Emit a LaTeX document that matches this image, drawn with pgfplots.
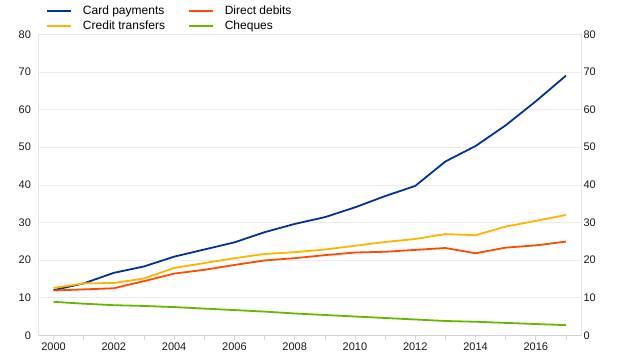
\documentclass[border=0pt]{standalone}
\usepackage{pgfplots}
\pgfplotsset{compat=1.18}
\usepackage{fontspec}
\setmainfont{Liberation Sans}
\definecolor{cblue}{RGB}{0,50,153}
\definecolor{cyellow}{RGB}{255,180,0}
\definecolor{corange}{RGB}{255,75,0}
\definecolor{cgreen}{RGB}{101,184,0}
\pgfplotstableread{
year card credit direct cheques
2000 12.0 12.6 11.9 8.9
2001 13.8 13.8 12.2 8.4
2002 16.6 13.9 12.5 8.0
2003 18.3 15.1 14.4 7.8
2004 20.9 17.9 16.4 7.5
2005 22.8 19.2 17.4 7.1
2006 24.7 20.5 18.7 6.7
2007 27.4 21.6 19.9 6.3
2008 29.6 22.1 20.5 5.8
2009 31.4 22.8 21.3 5.4
2010 34.0 23.8 22.0 5.0
2011 37.0 24.8 22.2 4.6
2012 39.7 25.6 22.7 4.2
2013 46.2 26.9 23.2 3.8
2014 50.3 26.6 21.8 3.6
2015 55.8 28.9 23.3 3.3
2016 62.2 30.4 23.9 3.0
2017 69.0 32.0 24.9 2.7
}\data
\pgfplotsset{
  common/.style={
    scale only axis, width=542.5pt, height=301pt,
    xmin=1999.5, xmax=2017.5, ymin=0, ymax=80,
    ytick={0,10,...,80},
    tick label style={font=\fontsize{11}{13}\selectfont, text=black!90},
    /pgf/number format/assume math mode=true,
    /pgf/number format/1000 sep={},
  },
  mylegend/.style={legend image code/.code={\draw[##1, line width=1.8pt] (0pt,0pt) -- (24pt,0pt);}},
}
\begin{document}
\begin{tikzpicture}
\begin{axis}[common,
  xtick={2000,2001,...,2017},
  xticklabels={2000,,2002,,2004,,2006,,2008,,2010,,2012,,2014,,2016,},
  xtick pos=bottom,
  tick align=outside,
  x tick style={draw=gray!30, line width=0.6pt},
  y tick style={draw=none},
  major tick length=5pt,
  ytick pos=left,
  ymajorgrids,
  grid style={gray!15, line width=0.6pt},
  axis line style={gray!20, line width=0.6pt},
  yticklabel style={xshift=1pt},
  xticklabel style={yshift=1pt},
  legend style={at={(0,1)}, anchor=south west, xshift=7.5pt, yshift=1pt,
    draw=none, fill=none, font=\fontsize{12}{14}\selectfont,
    inner sep=0pt, row sep=1pt,
    /tikz/column 1/.style={column sep=9pt},
    /tikz/column 2/.style={column sep=21pt},
    /tikz/column 3/.style={column sep=9pt}},
  legend columns=2,
  legend cell align=left,
  mylegend,
]
\addplot[cblue, line width=1.8pt] table[x=year, y=card] {\data};
\addlegendentry{Card payments}
\addplot[corange, line width=1.8pt] table[x=year, y=direct] {\data};
\addlegendentry{Direct debits}
\addplot[cyellow, line width=1.8pt] table[x=year, y=credit] {\data};
\addlegendentry{Credit transfers}
\addplot[cgreen, line width=1.8pt] table[x=year, y=cheques] {\data};
\addlegendentry{Cheques}
\draw[gray!35, line width=0.7pt] (rel axis cs:0,0) -- (rel axis cs:1,0);
\end{axis}
\begin{axis}[common,
  hide x axis,
  axis y line*=right,
  y axis line style={draw=none},
  y tick style={draw=none},
  yticklabel style={xshift=-1pt},
]
\addplot[draw=none] coordinates {(2000,0)};
\end{axis}
\path (-38.5pt,-18.5pt) (581.5pt,335.3pt);
\end{tikzpicture}
\end{document}
